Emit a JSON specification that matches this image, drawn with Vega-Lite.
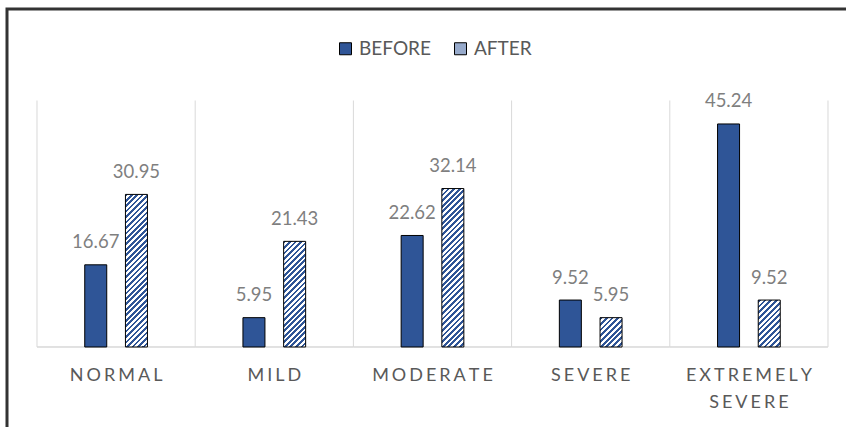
{
  "$schema": "https://vega.github.io/schema/vega-lite/v6.json",
  "autosize": {"type": "none"},
  "width": 843,
  "height": 422,
  "padding": {"left": 7, "top": 9, "right": -4, "bottom": -4},
  "background": "white",
  "config": {
    "view": {"stroke": "#333333", "strokeWidth": 3},
    "font": "Lato"
  },
  "data": {
    "values": [
      {"category": "NORMAL", "series": "BEFORE", "value": 16.67},
      {"category": "NORMAL", "series": "AFTER", "value": 30.95},
      {"category": "MILD", "series": "BEFORE", "value": 5.95},
      {"category": "MILD", "series": "AFTER", "value": 21.43},
      {"category": "MODERATE", "series": "BEFORE", "value": 22.62},
      {"category": "MODERATE", "series": "AFTER", "value": 32.14},
      {"category": "SEVERE", "series": "BEFORE", "value": 9.52},
      {"category": "SEVERE", "series": "AFTER", "value": 5.95},
      {"category": "EXTREMELY SEVERE", "series": "BEFORE", "value": 45.24},
      {"category": "EXTREMELY SEVERE", "series": "AFTER", "value": 9.52}
    ]
  },
  "encoding": {
    "x": {
      "field": "category",
      "type": "nominal",
      "scale": {"domain": ["NORMAL", "MILD", "MODERATE", "SEVERE", "EXTREMELY SEVERE"], "paddingInner": 0, "paddingOuter": 0.16435, "align": 0.5769},
      "axis": {
        "orient": "bottom",
        "offset": -84,
        "domain": false,
        "ticks": false,
        "grid": false,
        "title": null,
        "labelAngle": 0,
        "labelFont": "Lato",
        "labelFontSize": 18,
        "labelColor": "#595959",
        "labelPadding": 19,
        "labelLineHeight": 27,
        "labelOverlap": false,
        "labelBound": false,
        "labelLimit": 0,
        "labelExpr": "split(replace(datum.label, regexp('([A-Z])(?=[A-Z])', 'g'), '$1\u2006'), ' ')"
      }
    }
  },
  "layer": [
    {
      "transform": [{"filter": "datum.series === 'BEFORE'"}],
      "mark": {"type": "rule", "stroke": "#D9D9D9", "strokeWidth": 1},
      "encoding": {
        "x": {"field": "category", "type": "nominal", "bandPosition": 0},
        "y": {"datum": 0, "type": "quantitative", "scale": {"domain": [-17.04, 68.56], "nice": false, "zero": false}, "axis": null},
        "y2": {"datum": 50}
      }
    },
    {
      "transform": [{"filter": "datum.series === 'BEFORE' && datum.category === 'EXTREMELY SEVERE'"}],
      "mark": {"type": "rule", "stroke": "#D9D9D9", "strokeWidth": 1},
      "encoding": {
        "x": {"field": "category", "type": "nominal", "bandPosition": 1},
        "y": {"datum": 0, "type": "quantitative"},
        "y2": {"datum": 50}
      }
    },
    {
      "transform": [{"filter": "datum.series === 'BEFORE'"}],
      "mark": {"type": "bar", "fill": "#ffffff", "fillOpacity": 0, "stroke": "#D9D9D9", "strokeWidth": 1},
      "encoding": {
        "y": {"datum": 0, "type": "quantitative"},
        "y2": {"datum": 0}
      }
    },
    {
      "transform": [{"filter": "datum.series === 'BEFORE'"}],
      "mark": {"type": "bar", "width": 22, "stroke": "#000000", "strokeWidth": 1},
      "encoding": {
        "xOffset": {"field": "series", "type": "nominal", "scale": {"domain": ["BEFORE", "AFTER"], "paddingInner": 0.113, "paddingOuter": 1}},
        "y": {"field": "value", "type": "quantitative"},
        "y2": {"datum": 0},
        "fill": {
          "field": "series",
          "type": "nominal",
          "scale": {"domain": ["BEFORE", "AFTER"], "range": ["#2F5597", "#97AACB"]},
          "legend": {
            "orient": "none",
            "legendX": 329,
            "legendY": 30,
            "direction": "horizontal",
            "title": null,
            "padding": 0,
            "symbolType": "square",
            "symbolSize": 144,
            "symbolStrokeColor": "#000000",
            "symbolStrokeWidth": 1,
            "labelFont": "Lato",
            "labelFontSize": 19,
            "labelColor": "#595959",
            "labelOffset": 4,
            "columnPadding": 20
          }
        }
      }
    },
    {
      "transform": [{"filter": "datum.series === 'AFTER' && datum.category === 'NORMAL'"}],
      "mark": {"type": "bar", "width": 22, "stroke": "#000000", "strokeWidth": 1, "fill": {"gradient": "linear", "x1": 0, "y1": 0, "x2": 0.1616, "y2": 1.1209, "stops": [
        {"offset":0,"color":"#2F5597"},
        {"offset":0.0156,"color":"#2F5597"},{"offset":0.0156,"color":"#fff"},{"offset":0.0313,"color":"#fff"},{"offset":0.0313,"color":"#2F5597"},
        {"offset":0.0469,"color":"#2F5597"},{"offset":0.0469,"color":"#fff"},{"offset":0.0625,"color":"#fff"},{"offset":0.0625,"color":"#2F5597"},
        {"offset":0.0781,"color":"#2F5597"},{"offset":0.0781,"color":"#fff"},{"offset":0.0938,"color":"#fff"},{"offset":0.0938,"color":"#2F5597"},
        {"offset":0.1094,"color":"#2F5597"},{"offset":0.1094,"color":"#fff"},{"offset":0.125,"color":"#fff"},{"offset":0.125,"color":"#2F5597"},
        {"offset":0.1406,"color":"#2F5597"},{"offset":0.1406,"color":"#fff"},{"offset":0.1563,"color":"#fff"},{"offset":0.1563,"color":"#2F5597"},
        {"offset":0.1719,"color":"#2F5597"},{"offset":0.1719,"color":"#fff"},{"offset":0.1875,"color":"#fff"},{"offset":0.1875,"color":"#2F5597"},
        {"offset":0.2031,"color":"#2F5597"},{"offset":0.2031,"color":"#fff"},{"offset":0.2188,"color":"#fff"},{"offset":0.2188,"color":"#2F5597"},
        {"offset":0.2344,"color":"#2F5597"},{"offset":0.2344,"color":"#fff"},{"offset":0.25,"color":"#fff"},{"offset":0.25,"color":"#2F5597"},
        {"offset":0.2656,"color":"#2F5597"},{"offset":0.2656,"color":"#fff"},{"offset":0.2813,"color":"#fff"},{"offset":0.2813,"color":"#2F5597"},
        {"offset":0.2969,"color":"#2F5597"},{"offset":0.2969,"color":"#fff"},{"offset":0.3125,"color":"#fff"},{"offset":0.3125,"color":"#2F5597"},
        {"offset":0.3281,"color":"#2F5597"},{"offset":0.3281,"color":"#fff"},{"offset":0.3438,"color":"#fff"},{"offset":0.3438,"color":"#2F5597"},
        {"offset":0.3594,"color":"#2F5597"},{"offset":0.3594,"color":"#fff"},{"offset":0.375,"color":"#fff"},{"offset":0.375,"color":"#2F5597"},
        {"offset":0.3906,"color":"#2F5597"},{"offset":0.3906,"color":"#fff"},{"offset":0.4063,"color":"#fff"},{"offset":0.4063,"color":"#2F5597"},
        {"offset":0.4219,"color":"#2F5597"},{"offset":0.4219,"color":"#fff"},{"offset":0.4375,"color":"#fff"},{"offset":0.4375,"color":"#2F5597"},
        {"offset":0.4531,"color":"#2F5597"},{"offset":0.4531,"color":"#fff"},{"offset":0.4688,"color":"#fff"},{"offset":0.4688,"color":"#2F5597"},
        {"offset":0.4844,"color":"#2F5597"},{"offset":0.4844,"color":"#fff"},{"offset":0.5,"color":"#fff"},{"offset":0.5,"color":"#2F5597"},
        {"offset":0.5156,"color":"#2F5597"},{"offset":0.5156,"color":"#fff"},{"offset":0.5313,"color":"#fff"},{"offset":0.5313,"color":"#2F5597"},
        {"offset":0.5469,"color":"#2F5597"},{"offset":0.5469,"color":"#fff"},{"offset":0.5625,"color":"#fff"},{"offset":0.5625,"color":"#2F5597"},
        {"offset":0.5781,"color":"#2F5597"},{"offset":0.5781,"color":"#fff"},{"offset":0.5938,"color":"#fff"},{"offset":0.5938,"color":"#2F5597"},
        {"offset":0.6094,"color":"#2F5597"},{"offset":0.6094,"color":"#fff"},{"offset":0.625,"color":"#fff"},{"offset":0.625,"color":"#2F5597"},
        {"offset":0.6406,"color":"#2F5597"},{"offset":0.6406,"color":"#fff"},{"offset":0.6563,"color":"#fff"},{"offset":0.6563,"color":"#2F5597"},
        {"offset":0.6719,"color":"#2F5597"},{"offset":0.6719,"color":"#fff"},{"offset":0.6875,"color":"#fff"},{"offset":0.6875,"color":"#2F5597"},
        {"offset":0.7031,"color":"#2F5597"},{"offset":0.7031,"color":"#fff"},{"offset":0.7188,"color":"#fff"},{"offset":0.7188,"color":"#2F5597"},
        {"offset":0.7344,"color":"#2F5597"},{"offset":0.7344,"color":"#fff"},{"offset":0.75,"color":"#fff"},{"offset":0.75,"color":"#2F5597"},
        {"offset":0.7656,"color":"#2F5597"},{"offset":0.7656,"color":"#fff"},{"offset":0.7813,"color":"#fff"},{"offset":0.7813,"color":"#2F5597"},
        {"offset":0.7969,"color":"#2F5597"},{"offset":0.7969,"color":"#fff"},{"offset":0.8125,"color":"#fff"},{"offset":0.8125,"color":"#2F5597"},
        {"offset":0.8281,"color":"#2F5597"},{"offset":0.8281,"color":"#fff"},{"offset":0.8438,"color":"#fff"},{"offset":0.8438,"color":"#2F5597"},
        {"offset":0.8594,"color":"#2F5597"},{"offset":0.8594,"color":"#fff"},{"offset":0.875,"color":"#fff"},{"offset":0.875,"color":"#2F5597"},
        {"offset":0.8906,"color":"#2F5597"},{"offset":0.8906,"color":"#fff"},{"offset":0.9063,"color":"#fff"},{"offset":0.9063,"color":"#2F5597"},
        {"offset":0.9219,"color":"#2F5597"},{"offset":0.9219,"color":"#fff"},{"offset":0.9375,"color":"#fff"},{"offset":0.9375,"color":"#2F5597"},
        {"offset":0.9531,"color":"#2F5597"},{"offset":0.9531,"color":"#fff"},{"offset":0.9688,"color":"#fff"},{"offset":0.9688,"color":"#2F5597"},
        {"offset":0.9844,"color":"#2F5597"},{"offset":0.9844,"color":"#fff"},{"offset":1,"color":"#fff"}
      ]}},
      "encoding": {
        "xOffset": {"field": "series", "type": "nominal"},
        "y": {"field": "value", "type": "quantitative"},
        "y2": {"datum": 0}
      }
    },
    {
      "transform": [{"filter": "datum.series === 'AFTER' && datum.category === 'MILD'"}],
      "mark": {"type": "bar", "width": 22, "stroke": "#000000", "strokeWidth": 1, "fill": {"gradient": "linear", "x1": 0, "y1": 0, "x2": 0.2411, "y2": 1.158, "stops": [
        {"offset":0,"color":"#2F5597"},
        {"offset":0.0217,"color":"#2F5597"},{"offset":0.0217,"color":"#fff"},{"offset":0.0435,"color":"#fff"},{"offset":0.0435,"color":"#2F5597"},
        {"offset":0.0652,"color":"#2F5597"},{"offset":0.0652,"color":"#fff"},{"offset":0.087,"color":"#fff"},{"offset":0.087,"color":"#2F5597"},
        {"offset":0.1087,"color":"#2F5597"},{"offset":0.1087,"color":"#fff"},{"offset":0.1304,"color":"#fff"},{"offset":0.1304,"color":"#2F5597"},
        {"offset":0.1522,"color":"#2F5597"},{"offset":0.1522,"color":"#fff"},{"offset":0.1739,"color":"#fff"},{"offset":0.1739,"color":"#2F5597"},
        {"offset":0.1957,"color":"#2F5597"},{"offset":0.1957,"color":"#fff"},{"offset":0.2174,"color":"#fff"},{"offset":0.2174,"color":"#2F5597"},
        {"offset":0.2391,"color":"#2F5597"},{"offset":0.2391,"color":"#fff"},{"offset":0.2609,"color":"#fff"},{"offset":0.2609,"color":"#2F5597"},
        {"offset":0.2826,"color":"#2F5597"},{"offset":0.2826,"color":"#fff"},{"offset":0.3043,"color":"#fff"},{"offset":0.3043,"color":"#2F5597"},
        {"offset":0.3261,"color":"#2F5597"},{"offset":0.3261,"color":"#fff"},{"offset":0.3478,"color":"#fff"},{"offset":0.3478,"color":"#2F5597"},
        {"offset":0.3696,"color":"#2F5597"},{"offset":0.3696,"color":"#fff"},{"offset":0.3913,"color":"#fff"},{"offset":0.3913,"color":"#2F5597"},
        {"offset":0.413,"color":"#2F5597"},{"offset":0.413,"color":"#fff"},{"offset":0.4348,"color":"#fff"},{"offset":0.4348,"color":"#2F5597"},
        {"offset":0.4565,"color":"#2F5597"},{"offset":0.4565,"color":"#fff"},{"offset":0.4783,"color":"#fff"},{"offset":0.4783,"color":"#2F5597"},
        {"offset":0.5,"color":"#2F5597"},{"offset":0.5,"color":"#fff"},{"offset":0.5217,"color":"#fff"},{"offset":0.5217,"color":"#2F5597"},
        {"offset":0.5435,"color":"#2F5597"},{"offset":0.5435,"color":"#fff"},{"offset":0.5652,"color":"#fff"},{"offset":0.5652,"color":"#2F5597"},
        {"offset":0.587,"color":"#2F5597"},{"offset":0.587,"color":"#fff"},{"offset":0.6087,"color":"#fff"},{"offset":0.6087,"color":"#2F5597"},
        {"offset":0.6304,"color":"#2F5597"},{"offset":0.6304,"color":"#fff"},{"offset":0.6522,"color":"#fff"},{"offset":0.6522,"color":"#2F5597"},
        {"offset":0.6739,"color":"#2F5597"},{"offset":0.6739,"color":"#fff"},{"offset":0.6957,"color":"#fff"},{"offset":0.6957,"color":"#2F5597"},
        {"offset":0.7174,"color":"#2F5597"},{"offset":0.7174,"color":"#fff"},{"offset":0.7391,"color":"#fff"},{"offset":0.7391,"color":"#2F5597"},
        {"offset":0.7609,"color":"#2F5597"},{"offset":0.7609,"color":"#fff"},{"offset":0.7826,"color":"#fff"},{"offset":0.7826,"color":"#2F5597"},
        {"offset":0.8043,"color":"#2F5597"},{"offset":0.8043,"color":"#fff"},{"offset":0.8261,"color":"#fff"},{"offset":0.8261,"color":"#2F5597"},
        {"offset":0.8478,"color":"#2F5597"},{"offset":0.8478,"color":"#fff"},{"offset":0.8696,"color":"#fff"},{"offset":0.8696,"color":"#2F5597"},
        {"offset":0.8913,"color":"#2F5597"},{"offset":0.8913,"color":"#fff"},{"offset":0.913,"color":"#fff"},{"offset":0.913,"color":"#2F5597"},
        {"offset":0.9348,"color":"#2F5597"},{"offset":0.9348,"color":"#fff"},{"offset":0.9565,"color":"#fff"},{"offset":0.9565,"color":"#2F5597"},
        {"offset":0.9783,"color":"#2F5597"},{"offset":0.9783,"color":"#fff"},{"offset":1,"color":"#fff"}
      ]}},
      "encoding": {
        "xOffset": {"field": "series", "type": "nominal"},
        "y": {"field": "value", "type": "quantitative"},
        "y2": {"datum": 0}
      }
    },
    {
      "transform": [{"filter": "datum.series === 'AFTER' && datum.category === 'MODERATE'"}],
      "mark": {"type": "bar", "width": 22, "stroke": "#000000", "strokeWidth": 1, "fill": {"gradient": "linear", "x1": 0, "y1": 0, "x2": 0.1551, "y2": 1.1173, "stops": [
        {"offset":0,"color":"#2F5597"},
        {"offset":0.0156,"color":"#2F5597"},{"offset":0.0156,"color":"#fff"},{"offset":0.0313,"color":"#fff"},{"offset":0.0313,"color":"#2F5597"},
        {"offset":0.0469,"color":"#2F5597"},{"offset":0.0469,"color":"#fff"},{"offset":0.0625,"color":"#fff"},{"offset":0.0625,"color":"#2F5597"},
        {"offset":0.0781,"color":"#2F5597"},{"offset":0.0781,"color":"#fff"},{"offset":0.0938,"color":"#fff"},{"offset":0.0938,"color":"#2F5597"},
        {"offset":0.1094,"color":"#2F5597"},{"offset":0.1094,"color":"#fff"},{"offset":0.125,"color":"#fff"},{"offset":0.125,"color":"#2F5597"},
        {"offset":0.1406,"color":"#2F5597"},{"offset":0.1406,"color":"#fff"},{"offset":0.1563,"color":"#fff"},{"offset":0.1563,"color":"#2F5597"},
        {"offset":0.1719,"color":"#2F5597"},{"offset":0.1719,"color":"#fff"},{"offset":0.1875,"color":"#fff"},{"offset":0.1875,"color":"#2F5597"},
        {"offset":0.2031,"color":"#2F5597"},{"offset":0.2031,"color":"#fff"},{"offset":0.2188,"color":"#fff"},{"offset":0.2188,"color":"#2F5597"},
        {"offset":0.2344,"color":"#2F5597"},{"offset":0.2344,"color":"#fff"},{"offset":0.25,"color":"#fff"},{"offset":0.25,"color":"#2F5597"},
        {"offset":0.2656,"color":"#2F5597"},{"offset":0.2656,"color":"#fff"},{"offset":0.2813,"color":"#fff"},{"offset":0.2813,"color":"#2F5597"},
        {"offset":0.2969,"color":"#2F5597"},{"offset":0.2969,"color":"#fff"},{"offset":0.3125,"color":"#fff"},{"offset":0.3125,"color":"#2F5597"},
        {"offset":0.3281,"color":"#2F5597"},{"offset":0.3281,"color":"#fff"},{"offset":0.3438,"color":"#fff"},{"offset":0.3438,"color":"#2F5597"},
        {"offset":0.3594,"color":"#2F5597"},{"offset":0.3594,"color":"#fff"},{"offset":0.375,"color":"#fff"},{"offset":0.375,"color":"#2F5597"},
        {"offset":0.3906,"color":"#2F5597"},{"offset":0.3906,"color":"#fff"},{"offset":0.4063,"color":"#fff"},{"offset":0.4063,"color":"#2F5597"},
        {"offset":0.4219,"color":"#2F5597"},{"offset":0.4219,"color":"#fff"},{"offset":0.4375,"color":"#fff"},{"offset":0.4375,"color":"#2F5597"},
        {"offset":0.4531,"color":"#2F5597"},{"offset":0.4531,"color":"#fff"},{"offset":0.4688,"color":"#fff"},{"offset":0.4688,"color":"#2F5597"},
        {"offset":0.4844,"color":"#2F5597"},{"offset":0.4844,"color":"#fff"},{"offset":0.5,"color":"#fff"},{"offset":0.5,"color":"#2F5597"},
        {"offset":0.5156,"color":"#2F5597"},{"offset":0.5156,"color":"#fff"},{"offset":0.5313,"color":"#fff"},{"offset":0.5313,"color":"#2F5597"},
        {"offset":0.5469,"color":"#2F5597"},{"offset":0.5469,"color":"#fff"},{"offset":0.5625,"color":"#fff"},{"offset":0.5625,"color":"#2F5597"},
        {"offset":0.5781,"color":"#2F5597"},{"offset":0.5781,"color":"#fff"},{"offset":0.5938,"color":"#fff"},{"offset":0.5938,"color":"#2F5597"},
        {"offset":0.6094,"color":"#2F5597"},{"offset":0.6094,"color":"#fff"},{"offset":0.625,"color":"#fff"},{"offset":0.625,"color":"#2F5597"},
        {"offset":0.6406,"color":"#2F5597"},{"offset":0.6406,"color":"#fff"},{"offset":0.6563,"color":"#fff"},{"offset":0.6563,"color":"#2F5597"},
        {"offset":0.6719,"color":"#2F5597"},{"offset":0.6719,"color":"#fff"},{"offset":0.6875,"color":"#fff"},{"offset":0.6875,"color":"#2F5597"},
        {"offset":0.7031,"color":"#2F5597"},{"offset":0.7031,"color":"#fff"},{"offset":0.7188,"color":"#fff"},{"offset":0.7188,"color":"#2F5597"},
        {"offset":0.7344,"color":"#2F5597"},{"offset":0.7344,"color":"#fff"},{"offset":0.75,"color":"#fff"},{"offset":0.75,"color":"#2F5597"},
        {"offset":0.7656,"color":"#2F5597"},{"offset":0.7656,"color":"#fff"},{"offset":0.7813,"color":"#fff"},{"offset":0.7813,"color":"#2F5597"},
        {"offset":0.7969,"color":"#2F5597"},{"offset":0.7969,"color":"#fff"},{"offset":0.8125,"color":"#fff"},{"offset":0.8125,"color":"#2F5597"},
        {"offset":0.8281,"color":"#2F5597"},{"offset":0.8281,"color":"#fff"},{"offset":0.8438,"color":"#fff"},{"offset":0.8438,"color":"#2F5597"},
        {"offset":0.8594,"color":"#2F5597"},{"offset":0.8594,"color":"#fff"},{"offset":0.875,"color":"#fff"},{"offset":0.875,"color":"#2F5597"},
        {"offset":0.8906,"color":"#2F5597"},{"offset":0.8906,"color":"#fff"},{"offset":0.9063,"color":"#fff"},{"offset":0.9063,"color":"#2F5597"},
        {"offset":0.9219,"color":"#2F5597"},{"offset":0.9219,"color":"#fff"},{"offset":0.9375,"color":"#fff"},{"offset":0.9375,"color":"#2F5597"},
        {"offset":0.9531,"color":"#2F5597"},{"offset":0.9531,"color":"#fff"},{"offset":0.9688,"color":"#fff"},{"offset":0.9688,"color":"#2F5597"},
        {"offset":0.9844,"color":"#2F5597"},{"offset":0.9844,"color":"#fff"},{"offset":1,"color":"#fff"}
      ]}},
      "encoding": {
        "xOffset": {"field": "series", "type": "nominal"},
        "y": {"field": "value", "type": "quantitative"},
        "y2": {"datum": 0}
      }
    },
    {
      "transform": [{"filter": "datum.series === 'AFTER' && datum.category === 'SEVERE'"}],
      "mark": {"type": "bar", "width": 22, "stroke": "#000000", "strokeWidth": 1, "fill": {"gradient": "linear", "x1": 0, "y1": 0, "x2": 0.8401, "y2": 1.12, "stops": [
        {"offset":0,"color":"#2F5597"},
        {"offset":0.0556,"color":"#2F5597"},{"offset":0.0556,"color":"#fff"},{"offset":0.1111,"color":"#fff"},{"offset":0.1111,"color":"#2F5597"},
        {"offset":0.1667,"color":"#2F5597"},{"offset":0.1667,"color":"#fff"},{"offset":0.2222,"color":"#fff"},{"offset":0.2222,"color":"#2F5597"},
        {"offset":0.2778,"color":"#2F5597"},{"offset":0.2778,"color":"#fff"},{"offset":0.3333,"color":"#fff"},{"offset":0.3333,"color":"#2F5597"},
        {"offset":0.3889,"color":"#2F5597"},{"offset":0.3889,"color":"#fff"},{"offset":0.4444,"color":"#fff"},{"offset":0.4444,"color":"#2F5597"},
        {"offset":0.5,"color":"#2F5597"},{"offset":0.5,"color":"#fff"},{"offset":0.5556,"color":"#fff"},{"offset":0.5556,"color":"#2F5597"},
        {"offset":0.6111,"color":"#2F5597"},{"offset":0.6111,"color":"#fff"},{"offset":0.6667,"color":"#fff"},{"offset":0.6667,"color":"#2F5597"},
        {"offset":0.7222,"color":"#2F5597"},{"offset":0.7222,"color":"#fff"},{"offset":0.7778,"color":"#fff"},{"offset":0.7778,"color":"#2F5597"},
        {"offset":0.8333,"color":"#2F5597"},{"offset":0.8333,"color":"#fff"},{"offset":0.8889,"color":"#fff"},{"offset":0.8889,"color":"#2F5597"},
        {"offset":0.9444,"color":"#2F5597"},{"offset":0.9444,"color":"#fff"},{"offset":1,"color":"#fff"}
      ]}},
      "encoding": {
        "xOffset": {"field": "series", "type": "nominal"},
        "y": {"field": "value", "type": "quantitative"},
        "y2": {"datum": 0}
      }
    },
    {
      "transform": [{"filter": "datum.series === 'AFTER' && datum.category === 'EXTREMELY SEVERE'"}],
      "mark": {"type": "bar", "width": 22, "stroke": "#000000", "strokeWidth": 1, "fill": {"gradient": "linear", "x1": 0, "y1": 0, "x2": 0.5645, "y2": 1.2042, "stops": [
        {"offset":0,"color":"#2F5597"},
        {"offset":0.0417,"color":"#2F5597"},{"offset":0.0417,"color":"#fff"},{"offset":0.0833,"color":"#fff"},{"offset":0.0833,"color":"#2F5597"},
        {"offset":0.125,"color":"#2F5597"},{"offset":0.125,"color":"#fff"},{"offset":0.1667,"color":"#fff"},{"offset":0.1667,"color":"#2F5597"},
        {"offset":0.2083,"color":"#2F5597"},{"offset":0.2083,"color":"#fff"},{"offset":0.25,"color":"#fff"},{"offset":0.25,"color":"#2F5597"},
        {"offset":0.2917,"color":"#2F5597"},{"offset":0.2917,"color":"#fff"},{"offset":0.3333,"color":"#fff"},{"offset":0.3333,"color":"#2F5597"},
        {"offset":0.375,"color":"#2F5597"},{"offset":0.375,"color":"#fff"},{"offset":0.4167,"color":"#fff"},{"offset":0.4167,"color":"#2F5597"},
        {"offset":0.4583,"color":"#2F5597"},{"offset":0.4583,"color":"#fff"},{"offset":0.5,"color":"#fff"},{"offset":0.5,"color":"#2F5597"},
        {"offset":0.5417,"color":"#2F5597"},{"offset":0.5417,"color":"#fff"},{"offset":0.5833,"color":"#fff"},{"offset":0.5833,"color":"#2F5597"},
        {"offset":0.625,"color":"#2F5597"},{"offset":0.625,"color":"#fff"},{"offset":0.6667,"color":"#fff"},{"offset":0.6667,"color":"#2F5597"},
        {"offset":0.7083,"color":"#2F5597"},{"offset":0.7083,"color":"#fff"},{"offset":0.75,"color":"#fff"},{"offset":0.75,"color":"#2F5597"},
        {"offset":0.7917,"color":"#2F5597"},{"offset":0.7917,"color":"#fff"},{"offset":0.8333,"color":"#fff"},{"offset":0.8333,"color":"#2F5597"},
        {"offset":0.875,"color":"#2F5597"},{"offset":0.875,"color":"#fff"},{"offset":0.9167,"color":"#fff"},{"offset":0.9167,"color":"#2F5597"},
        {"offset":0.9583,"color":"#2F5597"},{"offset":0.9583,"color":"#fff"},{"offset":1,"color":"#fff"}
      ]}},
      "encoding": {
        "xOffset": {"field": "series", "type": "nominal"},
        "y": {"field": "value", "type": "quantitative"},
        "y2": {"datum": 0}
      }
    },
    {
      "mark": {"type": "text", "font": "Lato", "fontSize": 18.5, "fill": "#7F7F7F", "baseline": "alphabetic", "align": "center", "dy": -16.5},
      "encoding": {
        "xOffset": {"field": "series", "type": "nominal"},
        "y": {"field": "value", "type": "quantitative"},
        "text": {"field": "value", "type": "quantitative", "format": ".2f"}
      }
    }
  ]
}
